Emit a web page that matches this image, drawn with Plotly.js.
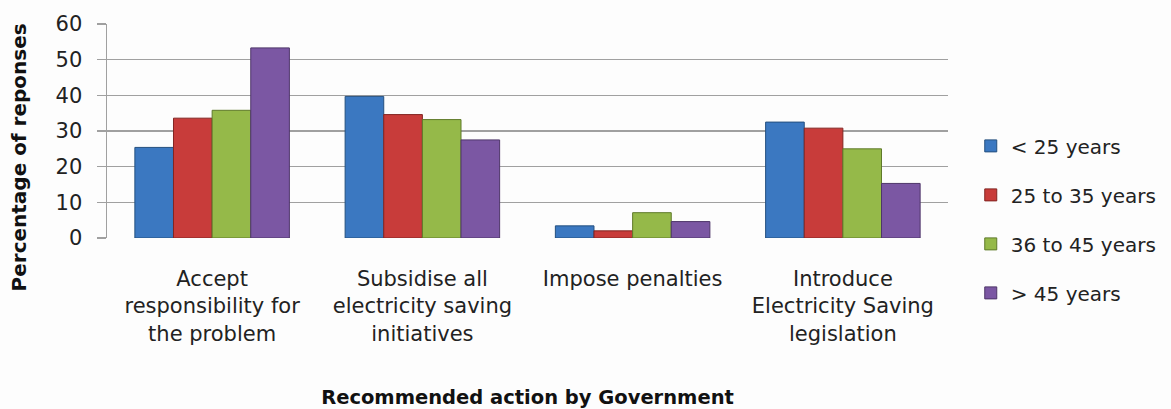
<!DOCTYPE html>
<html>
<head>
<meta charset="utf-8">
<script src="https://cdn.plot.ly/plotly-3.0.1.min.js"></script>
<style>
  html, body { margin: 0; padding: 0; background: #fdfdfd; }
  #chart { width: 1171px; height: 409px; }
</style>
</head>
<body>
<div id="chart"></div>
<script>
// Recommended government actions, with responses split by age band (percent)
const categories = [
  "Accept<br>responsibility for<br>the problem",
  "Subsidise all<br>electricity saving<br>initiatives",
  "Impose penalties",
  "Introduce<br>Electricity Saving<br>legislation"
];
const seriesNames = ["< 25 years", "25 to 35 years", "36 to 45 years", "> 45 years"];
const under25   = [25.4, 39.7, 3.4, 32.5];
const age25to35 = [33.6, 34.6, 2.0, 30.8];
const age36to45 = [35.8, 33.2, 7.1, 25.0];
const over45    = [53.3, 27.5, 4.6, 15.3];
const yTicks = [0, 10, 20, 30, 40, 50, 60];

const fillColors = ["#3b78c1", "#c83c3a", "#95b949", "#7b57a3"];
const lineColors = ["#25507f", "#832522", "#5f7a2a", "#4e3669"];
const FONT = "'DejaVu Sans', sans-serif";

const values = [under25, age25to35, age36to45, over45];
const traces = values.map((v, i) => ({
  type: "bar",
  name: seriesNames[i],
  x: categories,
  y: v,
  legendgroup: "g" + i,
  marker: { color: fillColors[i], line: { color: lineColors[i], width: 1 } },
  hoverinfo: "skip"
}));

const layout = {
  width: 1171,
  height: 409,
  paper_bgcolor: "#fdfdfd",
  plot_bgcolor: "#fdfdfd",
  margin: { l: 107, r: 223, t: 24, b: 171, autoexpand: false },
  barmode: "group",
  bargap: 0.265,
  bargroupgap: 0,
  font: { family: FONT, size: 20, color: "#222" },
  xaxis: {
    type: "category",
    showgrid: false,
    showline: false,
    ticks: "",
    ticklabelstandoff: 26,
    tickfont: { family: FONT, size: 21, color: "#222" },
    title: {
      text: "<b>Recommended action by Government</b>",
      font: { family: FONT, size: 19.5, color: "#111" },
      standoff: 45
    }
  },
  yaxis: {
    range: [0, 60],
    tickvals: yTicks,
    ticktext: yTicks.map(String),
    showgrid: true,
    gridcolor: "#a0a0a0",
    gridwidth: 1.5,
    showline: true,
    linecolor: "#a0a0a0",
    linewidth: 1.5,
    ticks: "outside",
    ticklen: 9,
    tickcolor: "#a0a0a0",
    tickwidth: 1.5,
    ticklabelstandoff: 10,
    tickfont: { family: FONT, size: 21, color: "#222" },
    zeroline: false
  },
  showlegend: true,
  legend: {
    xref: "container",
    x: 0.829,
    xanchor: "left",
    y: 0.087,
    yanchor: "middle",
    bgcolor: "rgba(0,0,0,0)",
    font: { family: FONT, size: 20, color: "#222" },
    tracegroupgap: 20,
    traceorder: "grouped",
    itemwidth: 30
  },
  annotations: [{
    text: "<b>Percentage of reponses</b>",
    xref: "paper", yref: "paper",
    x: -0.105, y: 0.375,
    xanchor: "center", yanchor: "middle",
    textangle: -90,
    showarrow: false,
    font: { family: FONT, size: 20, color: "#111" }
  }]
};

Plotly.newPlot("chart", traces, layout, { staticPlot: true, displayModeBar: false });
</script>
</body>
</html>
